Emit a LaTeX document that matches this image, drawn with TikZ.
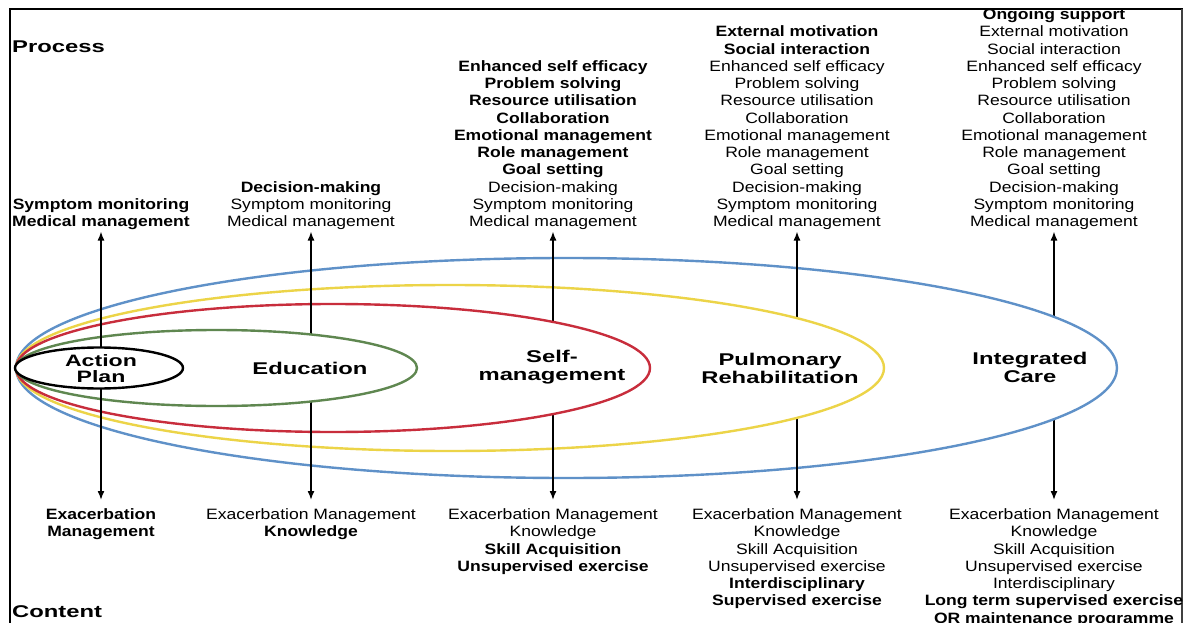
\documentclass[tikz,border=0pt]{standalone}
\usepackage{fontspec}
\setmainfont[FakeStretch=1.17]{Liberation Sans}
\newfontfamily\stagefont[FakeStretch=1.4]{Liberation Sans}
\usetikzlibrary{arrows.meta}

\definecolor{ringblue}{RGB}{95,145,200}
\definecolor{ringyellow}{RGB}{236,212,72}
\definecolor{ringred}{RGB}{200,45,60}
\definecolor{ringgreen}{RGB}{95,135,80}

\begin{document}
\begin{tikzpicture}[x=1pt,y=-1pt,
  ring/.style={line width=2.4pt, fill=white},
  link/.style={line width=1.5pt, -{Latex[length=9pt,width=7pt]}},
  items/.style={font=\fontsize{15}{17.25}\selectfont, align=center, inner xsep=0pt, inner ysep=1.5pt},
  below items/.style={items, anchor=north, inner ysep=8.5pt},
  above items/.style={items, anchor=south},
  stage/.style={font=\stagefont\bfseries\fontsize{17}{18}\selectfont, align=center, inner sep=0pt},
  heading/.style={font=\stagefont\bfseries\fontsize{17}{18}\selectfont, anchor=west, inner sep=0pt}]

\useasboundingbox (0,0) rectangle (1184,623);
\clip (0,0) rectangle (1184,623);

% frame
\draw[line width=2.4pt] (10,640) |- (1183,9);
\draw[line width=1.2pt, black!75] (1182,9) -- (1182,640);

% headings
\node[heading] (process) at (12,47) {Process};
\node[heading] (content) at (12,612) {Content};

% process items (above the rings)
\node[above items] (apTop) at (101,231.5)
  {\textbf{Symptom monitoring}\\\textbf{Medical management}};
\node[above items] (eduTop) at (311,231.5)
  {\textbf{Decision-making}\\Symptom monitoring\\Medical management};
\node[above items] (smTop) at (553,231.5)
  {\textbf{Enhanced self efficacy}\\\textbf{Problem solving}\\\textbf{Resource utilisation}\\
   \textbf{Collaboration}\\\textbf{Emotional management}\\\textbf{Role management}\\
   \textbf{Goal setting}\\Decision-making\\Symptom monitoring\\Medical management};
\node[above items] (prTop) at (797,231.5)
  {\textbf{External motivation}\\\textbf{Social interaction}\\Enhanced self efficacy\\
   Problem solving\\Resource utilisation\\Collaboration\\Emotional management\\
   Role management\\Goal setting\\Decision-making\\Symptom monitoring\\Medical management};
\node[above items] (icTop) at (1054,231.5)
  {\textbf{Ongoing support}\\External motivation\\Social interaction\\Enhanced self efficacy\\
   Problem solving\\Resource utilisation\\Collaboration\\Emotional management\\
   Role management\\Goal setting\\Decision-making\\Symptom monitoring\\Medical management};

% content items (below the rings)
\node[below items] (apBot) at (101,500)
  {\textbf{Exacerbation}\\\textbf{Management}};
\node[below items] (eduBot) at (311,500)
  {Exacerbation Management\\\textbf{Knowledge}};
\node[below items] (smBot) at (553,500)
  {Exacerbation Management\\Knowledge\\\textbf{Skill Acquisition}\\\textbf{Unsupervised exercise}};
\node[below items] (prBot) at (797,500)
  {Exacerbation Management\\Knowledge\\Skill Acquisition\\Unsupervised exercise\\
   \textbf{Interdisciplinary}\\\textbf{Supervised exercise}};
\node[below items] (icBot) at (1054,500)
  {Exacerbation Management\\Knowledge\\Skill Acquisition\\Unsupervised exercise\\
   Interdisciplinary\\\textbf{Long term supervised exercise}\\\textbf{OR maintenance programme}};

% axis points of the arrows on the common centre line
\coordinate (apAxis)  at (101,368);
\coordinate (eduAxis) at (311,368);
\coordinate (smAxis)  at (553,368);
\coordinate (prAxis)  at (797,368);
\coordinate (icAxis)  at (1054,368);

% rings from the outside in; each white fill hides the arrow stems inside it
\draw[link] (icAxis) -- (icTop.south);
\draw[link] (icAxis) -- (icBot.north);
\draw[ring, draw=ringblue] (566.5,368) ellipse [x radius=550.5, y radius=110];

\draw[link] (prAxis) -- (prTop.south);
\draw[link] (prAxis) -- (prBot.north);
\draw[ring, draw=ringyellow] (450,368) ellipse [x radius=434, y radius=83];

\draw[link] (smAxis) -- (smTop.south);
\draw[link] (smAxis) -- (smBot.north);
\draw[ring, draw=ringred] (333,368) ellipse [x radius=317, y radius=64];

\draw[link] (eduAxis) -- (eduTop.south);
\draw[link] (eduAxis) -- (eduBot.north);
\draw[ring, draw=ringgreen] (216.5,368) ellipse [x radius=200.5, y radius=38];

\draw[link] (apAxis) -- (apTop.south);
\draw[link] (apAxis) -- (apBot.north);
\draw[ring, draw=black] (99,368) ellipse [x radius=84, y radius=20.5];

% stage names
\node[stage, font=\stagefont\bfseries\fontsize{16.5}{16.5}\selectfont] (apLbl) at (101,368.5) {Action\\Plan};
\node[stage] (eduLbl) at (310,368) {Education};
\node[stage] (smLbl)  at (552,367) {Self-\\management};
\node[stage] (prLbl)  at (780,368) {Pulmonary\\Rehabilitation};
\node[stage] (icLbl)  at (1030,367) {Integrated\\Care};

\end{tikzpicture}
\end{document}
